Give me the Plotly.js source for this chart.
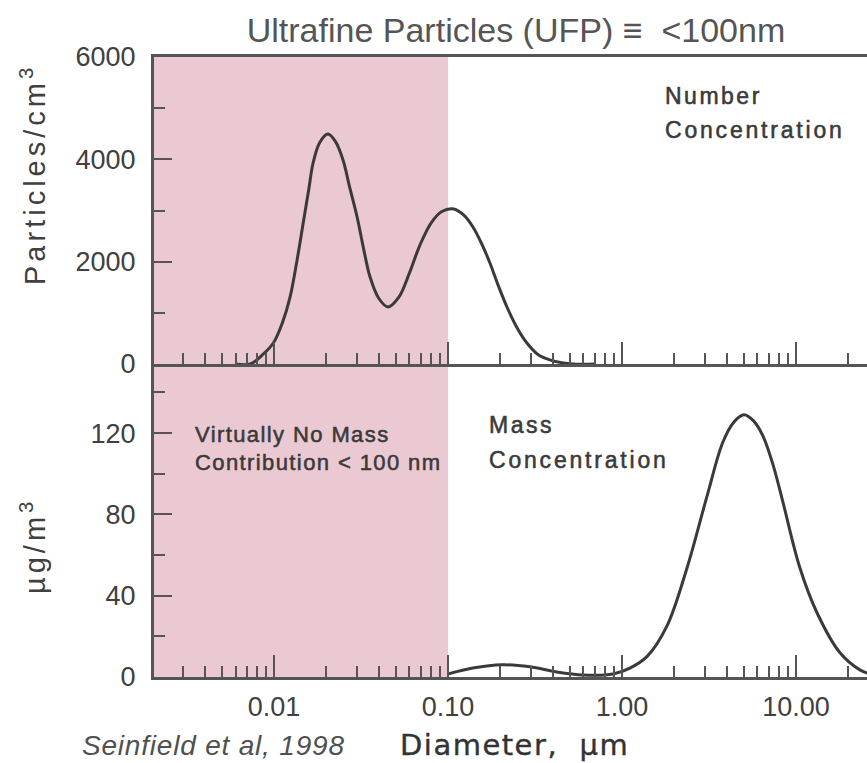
<!DOCTYPE html>
<html>
<head>
<meta charset="utf-8">
<script src="https://cdn.plot.ly/plotly-3.0.1.min.js"></script>
<style>
  html, body { margin: 0; padding: 0; background: #fff; }
  #chart { width: 867px; height: 763px; }
  g.annotation[data-index="0"] text, g.annotation[data-index="1"] text,
  g.annotation[data-index="2"] text, g.annotation[data-index="3"] text,
  g.annotation[data-index="4"] text, g.annotation[data-index="5"] text {
    stroke: #3a3a3a; stroke-width: 0.55px;
  }
  g.annotation[data-index="9"] text { stroke: #333; stroke-width: 0.4px; }
</style>
</head>
<body>
<div id="chart"></div>
<script>
// ---- Data ----
// Number concentration (top panel)
const diamNumber = [0.006, 0.0073, 0.0087, 0.0099, 0.0112, 0.01236, 0.0135, 0.0147, 0.0158, 0.01675, 0.0183, 0.0204, 0.0225, 0.0249, 0.0272, 0.030, 0.0327, 0.0356, 0.040, 0.0452, 0.052, 0.060, 0.069, 0.080, 0.092, 0.108, 0.124, 0.139, 0.156, 0.174, 0.195, 0.218, 0.250, 0.284, 0.330, 0.385, 0.45, 0.52, 0.7];
const numberConc = [0, 0, 200, 410, 820, 1310, 2000, 2755, 3400, 3928, 4330, 4495, 4350, 3987, 3450, 2873, 2250, 1700, 1280, 1114, 1300, 1780, 2330, 2760, 2980, 3030, 2900, 2677, 2350, 1974, 1520, 1114, 700, 410, 180, 80, 25, 0, 0];

// Mass concentration (bottom panel)
const diamMass = [0.1, 0.139, 0.204, 0.296, 0.42, 0.597, 0.887, 1.11, 1.39, 1.81, 2.37, 3.08, 3.80, 4.40, 5.02, 5.70, 6.46, 7.40, 8.41, 10.5, 13.2, 17.9, 23.3, 28];
const massConc = [1.5, 4.4, 6, 5, 2.5, 1, 1.5, 4.4, 10, 25, 54, 89, 115.6, 125.5, 129, 126, 118.5, 104, 86, 54, 31.6, 11.9, 3.5, 1];

// Ultrafine region (< 100 nm)
const ufpLimit = 0.1;

// Tick labels
const xMajorVals = [0.01, 0.1, 1, 10];
const xMajorText = ['0.01', '0.10', '1.00', '10.00'];
const xMinorVals = [0.003, 0.004, 0.005, 0.006, 0.007, 0.008, 0.009,
                    0.02, 0.03, 0.04, 0.05, 0.06, 0.07, 0.08, 0.09,
                    0.2, 0.3, 0.4, 0.5, 0.6, 0.7, 0.8, 0.9,
                    2, 3, 4, 5, 6, 7, 8, 9, 20];
const yTopMajor = [0, 2000, 4000, 6000];
const yTopMinor = [1000, 3000, 5000];
const yBotMajor = [0, 40, 80, 120];
const yBotMinor = [20, 60, 100, 140];

// ---- Styling ----
const axisColor = '#555555';
const textColor = '#404040';
const lineColor = '#3a3a3a';
const pink = '#ebc9d2';
const font = 'Liberation Sans, Arial, sans-serif';

const traces = [
  { x: diamNumber, y: numberConc, xaxis: 'x', yaxis: 'y', type: 'scatter', mode: 'lines',
    line: { color: lineColor, width: 3, shape: 'spline', smoothing: 1 }, hoverinfo: 'skip' },
  { x: diamMass, y: massConc, xaxis: 'x2', yaxis: 'y2', type: 'scatter', mode: 'lines',
    line: { color: lineColor, width: 3, shape: 'spline', smoothing: 1 }, hoverinfo: 'skip' }
];

const xRange = [Math.log10(0.00204), 1.408];

function xAxis(anchor, showLabels) {
  return {
    type: 'log', range: xRange, anchor: anchor, domain: [0, 1],
    showline: true, linecolor: axisColor, linewidth: 3, mirror: true,
    showgrid: false, zeroline: false,
    tickmode: 'array', tickvals: xMajorVals, ticktext: xMajorText,
    ticks: 'inside', ticklen: 22, tickwidth: 2, tickcolor: axisColor,
    showticklabels: showLabels, ticklabelstandoff: 4,
    tickfont: { family: font, size: 27, color: textColor },
    minor: { tickmode: 'array', tickvals: xMinorVals, ticks: 'inside', ticklen: 11, tickwidth: 2, tickcolor: axisColor, showgrid: false }
  };
}
function yAxis(domain, range, major, minor) {
  return {
    domain: domain, range: range, anchor: 'x',
    showline: true, linecolor: axisColor, linewidth: 3, mirror: false,
    showgrid: false, zeroline: false,
    tickmode: 'array', tickvals: major, ticktext: major.map(String),
    ticks: 'inside', ticklen: 18, tickwidth: 2, tickcolor: axisColor,
    ticklabelstandoff: 10,
    tickfont: { family: font, size: 27, color: textColor },
    minor: { tickmode: 'array', tickvals: minor, ticks: 'inside', ticklen: 11, tickwidth: 2, tickcolor: axisColor, showgrid: false }
  };
}

const W = 867, H = 763, L = 154, T = 57, B = 86;
const pw = W - L, ph = H - T - B;
const px = v => (v - L) / pw;          // pixel x -> paper
const py = v => (H - B - v) / ph;      // pixel y -> paper

const yTop = yAxis([py(364), 1], [0, 6000], yTopMajor, yTopMinor);
const yBot = yAxis([0, py(367)], [0, 152.5], yBotMajor, yBotMinor);
yBot.anchor = 'x2';

const annColor = '#3a3a3a';

const layout = {
  width: W, height: H,
  margin: { l: L, r: 0, t: T, b: B, pad: 0 },
  paper_bgcolor: '#ffffff', plot_bgcolor: '#ffffff',
  showlegend: false,
  title: { text: 'Ultrafine Particles (UFP) \u2261  <100nm', x: 516 / W, xanchor: 'center',
           y: 1 - 30 / H, yanchor: 'middle', xref: 'container', yref: 'container',
           font: { family: font, size: 34, color: '#555555' } },
  xaxis: xAxis('y', false),
  yaxis: yTop,
  xaxis2: xAxis('y2', true),
  yaxis2: yBot,
  shapes: [
    { type: 'rect', xref: 'x', yref: 'y domain', x0: 0.001, x1: ufpLimit, y0: 0, y1: 1,
      fillcolor: pink, line: { width: 0 }, layer: 'below' },
    { type: 'rect', xref: 'x2', yref: 'y2 domain', x0: 0.001, x1: ufpLimit, y0: 0, y1: 1,
      fillcolor: pink, line: { width: 0 }, layer: 'below' }
  ],
  annotations: [
    { text: '<span style="letter-spacing:2.5px">Number</span>', xref: 'paper', yref: 'paper', x: px(663), y: py(96),
      xanchor: 'left', yanchor: 'middle', align: 'left', showarrow: false,
      font: { family: font, size: 23, color: annColor } },
    { text: '<span style="letter-spacing:2.8px">Concentration</span>', xref: 'paper', yref: 'paper', x: px(663), y: py(130),
      xanchor: 'left', yanchor: 'middle', align: 'left', showarrow: false,
      font: { family: font, size: 23, color: annColor } },
    { text: '<span style="letter-spacing:2.5px">Mass</span>', xref: 'paper', yref: 'paper', x: px(487), y: py(425),
      xanchor: 'left', yanchor: 'middle', align: 'left', showarrow: false,
      font: { family: font, size: 23, color: annColor } },
    { text: '<span style="letter-spacing:2.8px">Concentration</span>', xref: 'paper', yref: 'paper', x: px(487), y: py(460),
      xanchor: 'left', yanchor: 'middle', align: 'left', showarrow: false,
      font: { family: font, size: 23, color: annColor } },
    { text: '<span style="letter-spacing:1.4px">Virtually No Mass</span>', xref: 'paper', yref: 'paper', x: px(193), y: py(435),
      xanchor: 'left', yanchor: 'middle', align: 'left', showarrow: false,
      font: { family: font, size: 22, color: annColor } },
    { text: '<span style="letter-spacing:1.4px">Contribution &lt; 100 nm</span>', xref: 'paper', yref: 'paper', x: px(193), y: py(463),
      xanchor: 'left', yanchor: 'middle', align: 'left', showarrow: false,
      font: { family: font, size: 22, color: annColor } },
    { text: '<span style="letter-spacing:4px">Particles/cm<sup>3</sup></span>', xref: 'paper', yref: 'paper', x: px(33), y: py(175),
      xanchor: 'center', yanchor: 'middle', textangle: -90, showarrow: false,
      font: { family: font, size: 29, color: textColor } },
    { text: '<span style="letter-spacing:4px">\u00b5g/m<sup>3</sup></span>', xref: 'paper', yref: 'paper', x: px(33), y: py(546),
      xanchor: 'center', yanchor: 'middle', textangle: -90, showarrow: false,
      font: { family: font, size: 29, color: textColor } },
    { text: '<i><span style="letter-spacing:0.8px">Seinfield et al, 1998</span></i>', xref: 'paper', yref: 'paper', x: px(80), y: py(745),
      xanchor: 'left', yanchor: 'middle', align: 'left', showarrow: false,
      font: { family: font, size: 28, color: '#505050' } },
    { text: '<span style="letter-spacing:1.5px">Diameter,  \u00b5m</span>', xref: 'paper', yref: 'paper', x: px(398), y: py(745),
      xanchor: 'left', yanchor: 'middle', align: 'left', showarrow: false,
      font: { family: 'DejaVu Sans, sans-serif', size: 29, color: '#333333' } }
  ]
};

Plotly.newPlot('chart', traces, layout, { staticPlot: true, displayModeBar: false });
</script>
</body>
</html>
